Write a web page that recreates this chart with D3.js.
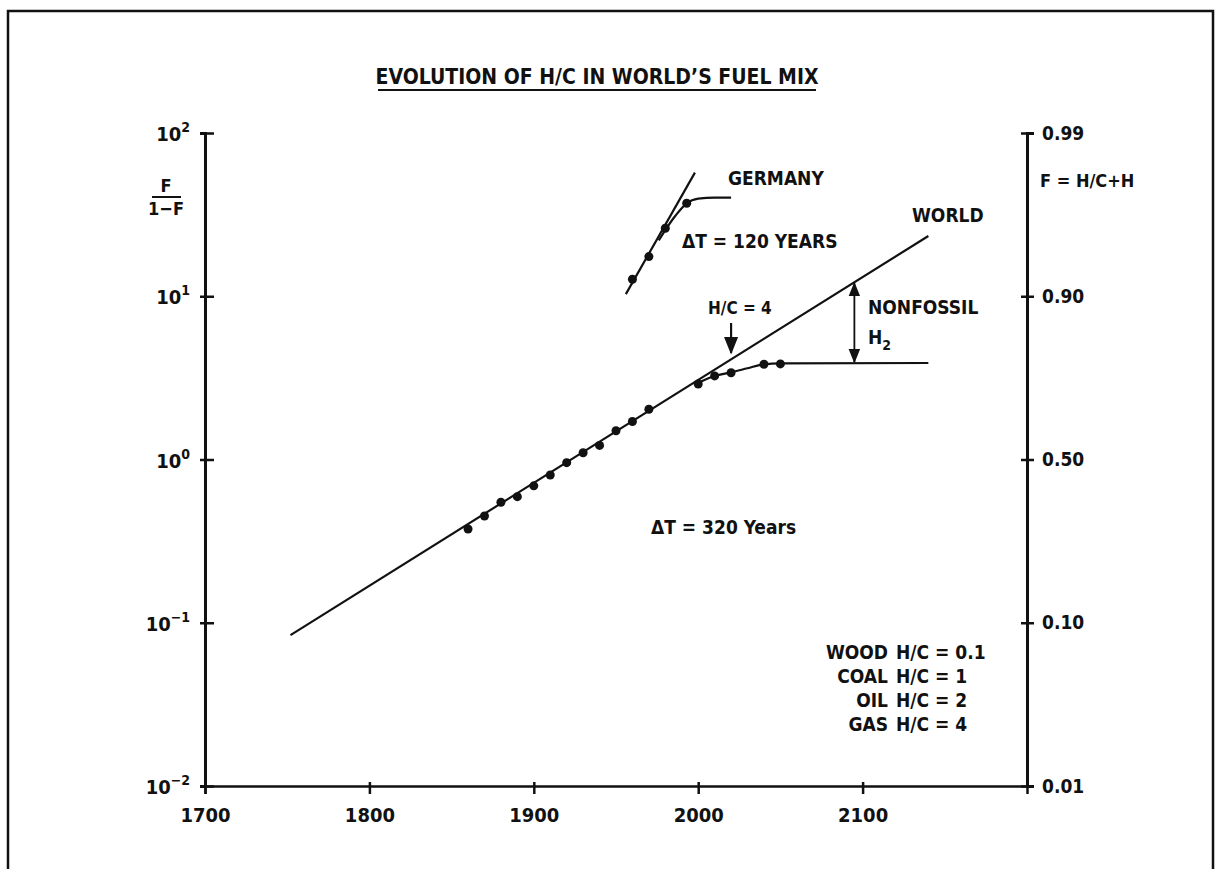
<!DOCTYPE html>
<html><head><meta charset="utf-8">
<script src="https://cdn.jsdelivr.net/npm/d3@7"></script>
<style>
body{margin:0;background:#fff}
text{font-family:"Liberation Sans Narrow","DejaVu Sans Condensed","Arial Narrow",Arial,sans-serif;font-weight:bold;fill:#111}
</style>
</head><body>
<svg id="c" width="1220" height="869"></svg>
<script>
// ---- data ----
const xTickYears = [1700, 1800, 1900, 2000, 2100];
const leftTickValues = [100, 10, 1, 0.1, 0.01];
const leftTickExponents = ["2", "1", "0", "−1", "−2"];
const rightTickValues = [100, 10, 1, 0.1, 0.01];
const rightTickLabels = ["0.99", "0.90", "0.50", "0.10", "0.01"];

const worldDotYears  = [1860, 1870, 1880, 1890, 1900, 1910, 1920, 1930, 1940, 1950, 1960, 1970, 2000, 2010, 2020, 2040, 2050];
const worldDotValues = [0.375, 0.451, 0.547, 0.592, 0.690, 0.804, 0.956, 1.10, 1.22, 1.50, 1.71, 2.03, 2.90, 3.25, 3.40, 3.83, 3.85];

const worldTrendYears  = [1752, 2140];
const worldTrendValues = [0.084, 23.4];

const fossilYears  = [2000, 2010, 2020, 2030, 2040, 2050, 2140];
const fossilValues = [2.95, 3.25, 3.42, 3.62, 3.83, 3.88, 3.9];

const germanyDotYears  = [1960, 1970, 1980, 1993];
const germanyDotValues = [12.7, 17.5, 26.1, 37.1];

const germanyTrendYears  = [1956, 1998];
const germanyTrendValues = [10.3, 57.2];

const germanyCurveYears  = [1976, 1986, 1993, 2000, 2010, 2020];
const germanyCurveValues = [22, 31, 37.1, 39.6, 40.2, 40.2];

const legendFuels = ["WOOD", "COAL", "OIL", "GAS"];
const legendHC    = ["0.1", "1", "2", "4"];

// ---- scales ----
const svg = d3.select("#c");
const x = d3.scaleLinear().domain([1700, 2200]).range([205, 1027]);
const y = d3.scaleLog().domain([0.01, 100]).range([786, 133]);
const ink = "#111";

// frame
svg.append("path").attr("d", "M8,869 V11 H1213 V869").attr("fill", "none").attr("stroke", ink).attr("stroke-width", 2.5);

// title
svg.append("text").attr("x", 597).attr("y", 84).attr("text-anchor", "middle").attr("font-size", 21)
  .text("EVOLUTION OF H/C IN WORLD’S FUEL MIX");
svg.append("line").attr("x1", 378).attr("x2", 816).attr("y1", 90).attr("y2", 90).attr("stroke", ink).attr("stroke-width", 2);

// bottom axis
const gx = svg.append("g").attr("transform", `translate(0,${y(0.01)})`)
  .call(d3.axisBottom(x).tickValues(xTickYears).tickFormat(d3.format("d")).tickSizeOuter(0).tickSize(8).tickPadding(14));
gx.select(".domain").attr("stroke", ink).attr("stroke-width", 2.5);
gx.selectAll(".tick line").attr("y1", -4).attr("stroke", ink).attr("stroke-width", 2.5);
gx.selectAll(".tick text").attr("font-size", 20).attr("fill", ink)
  .style("font-family", "'Liberation Sans Narrow','DejaVu Sans Condensed',Arial,sans-serif").style("font-weight", "bold");

// left axis
const gl = svg.append("g").attr("transform", `translate(${x(1700)},0)`)
  .call(d3.axisLeft(y).tickValues(leftTickValues).tickFormat("").tickSizeOuter(0).tickSize(5));
gl.select(".domain").attr("stroke", ink).attr("stroke-width", 3);
gl.selectAll(".tick line").attr("x2", 9).attr("x1", -5).attr("stroke", ink).attr("stroke-width", 2.5);
leftTickValues.forEach((v, i) => {
  const t = svg.append("text").attr("x", 190).attr("y", y(v) + 8).attr("text-anchor", "end").attr("font-size", 20);
  t.append("tspan").text("10");
  t.append("tspan").attr("dy", -9).attr("font-size", 14).text(leftTickExponents[i]);
});
// F/(1-F)
svg.append("text").attr("x", 166).attr("y", 192).attr("text-anchor", "middle").attr("font-size", 18).text("F");
svg.append("line").attr("x1", 152).attr("x2", 181).attr("y1", 197).attr("y2", 197).attr("stroke", ink).attr("stroke-width", 2);
svg.append("text").attr("x", 166).attr("y", 215).attr("text-anchor", "middle").attr("font-size", 18).text("1−F");

// right axis
const gr = svg.append("g").attr("transform", `translate(${x(2200)},0)`)
  .call(d3.axisRight(y).tickValues(rightTickValues).tickFormat((d, i) => rightTickLabels[i]).tickSizeOuter(0).tickSize(7).tickPadding(8));
gr.select(".domain").attr("stroke", ink).attr("stroke-width", 3);
gr.selectAll(".tick line").attr("x1", -6).attr("stroke", ink).attr("stroke-width", 2.5);
gr.selectAll(".tick text").attr("font-size", 19).attr("fill", ink)
  .style("font-family", "'Liberation Sans Narrow','DejaVu Sans Condensed',Arial,sans-serif").style("font-weight", "bold");
svg.append("text").attr("x", x(2200) + 13).attr("y", y(100) + 54).attr("font-size", 18).text("F = H/C+H");

// lines
const line = d3.line().x(d => x(d[0])).y(d => y(d[1]));
const pairs = (a, b) => a.map((v, i) => [v, b[i]]);
svg.append("path").attr("d", line(pairs(worldTrendYears, worldTrendValues))).attr("fill", "none").attr("stroke", ink).attr("stroke-width", 2.2);
svg.append("path").attr("d", line.curve(d3.curveMonotoneX)(pairs(fossilYears, fossilValues))).attr("fill", "none").attr("stroke", ink).attr("stroke-width", 2.2);
line.curve(d3.curveLinear);
svg.append("path").attr("d", line(pairs(germanyTrendYears, germanyTrendValues))).attr("fill", "none").attr("stroke", ink).attr("stroke-width", 2.2);
svg.append("path").attr("d", line.curve(d3.curveMonotoneX)(pairs(germanyCurveYears, germanyCurveValues))).attr("fill", "none").attr("stroke", ink).attr("stroke-width", 2.2);

// dots
svg.append("g").selectAll("circle").data(pairs(worldDotYears, worldDotValues)).join("circle")
  .attr("cx", d => x(d[0])).attr("cy", d => y(d[1])).attr("r", 4.5).attr("fill", ink);
svg.append("g").selectAll("circle").data(pairs(germanyDotYears, germanyDotValues)).join("circle")
  .attr("cx", d => x(d[0])).attr("cy", d => y(d[1])).attr("r", 4.5).attr("fill", ink);

// annotations
svg.append("text").attr("x", 728).attr("y", 185).attr("font-size", 19).text("GERMANY");
svg.append("text").attr("x", 682).attr("y", 248).attr("font-size", 19).text("ΔT = 120 YEARS");
svg.append("text").attr("x", 912).attr("y", 222).attr("font-size", 19).text("WORLD");
svg.append("text").attr("x", 868).attr("y", 314).attr("font-size", 19).text("NONFOSSIL");
const h2 = svg.append("text").attr("x", 868).attr("y", 344).attr("font-size", 19);
h2.append("tspan").text("H");
h2.append("tspan").attr("dy", 6).attr("font-size", 14).text("2");
svg.append("text").attr("x", 708).attr("y", 314).attr("font-size", 17).text("H/C = 4");
svg.append("text").attr("x", 651).attr("y", 534).attr("font-size", 19).text("ΔT = 320 Years");

// arrow markers
const defs = svg.append("defs");
defs.append("marker").attr("id", "ah").attr("viewBox", "0 0 10 10").attr("refX", 9).attr("refY", 5)
  .attr("markerWidth", 8).attr("markerHeight", 8).attr("orient", "auto-start-reverse")
  .append("path").attr("d", "M0,1 L10,5 L0,9 Z").attr("fill", ink);

// H/C = 4 arrow
const ax = x(2020);
svg.append("line").attr("x1", ax).attr("x2", ax).attr("y1", 323).attr("y2", y(4.5)).attr("stroke", ink).attr("stroke-width", 2.2).attr("marker-end", "url(#ah)");

// nonfossil double arrow
const ny = 2095;
const lt = d3.scaleLinear().domain(worldTrendYears).range(worldTrendValues.map(Math.log10));
svg.append("line").attr("x1", x(ny)).attr("x2", x(ny)).attr("y1", y(Math.pow(10, lt(ny))) + 1).attr("y2", y(3.9) - 1)
  .attr("stroke", ink).attr("stroke-width", 1.8).attr("marker-start", "url(#ah)").attr("marker-end", "url(#ah)");

// legend
legendFuels.forEach((f, i) => {
  const yy = 659 + i * 24;
  svg.append("text").attr("x", 888).attr("y", yy).attr("text-anchor", "end").attr("font-size", 19).text(f);
  svg.append("text").attr("x", 896).attr("y", yy).attr("font-size", 19).text("H/C = " + legendHC[i]);
});
</script>
</body></html>
